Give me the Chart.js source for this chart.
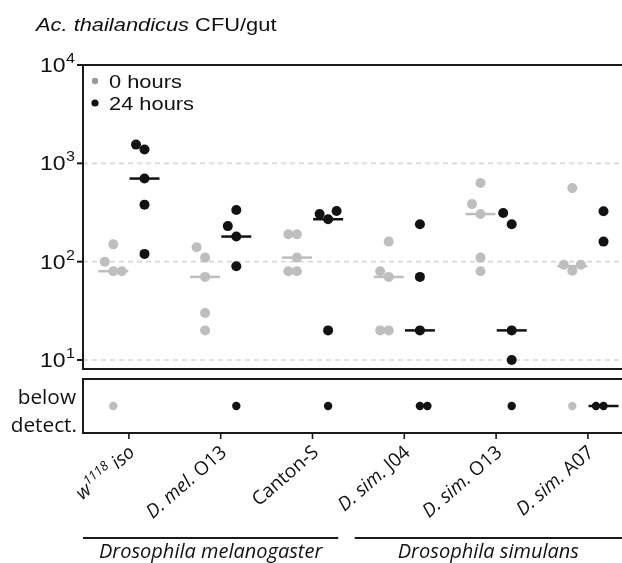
<!DOCTYPE html>
<html>
<head>
<meta charset="utf-8">
<script src="https://cdn.jsdelivr.net/npm/chart.js@4.4.0/dist/chart.umd.min.js"></script>
<style>
  html, body { margin: 0; padding: 0; background: #fff; }
  #wrap { position: relative; width: 622px; height: 563px; overflow: hidden; }
  #mainChart { position: absolute; left: 0; top: 0; }
  #belowChart { position: absolute; left: 0; top: 349px; }
</style>
</head>
<body>
<div id="wrap">
  <canvas id="mainChart" width="622" height="400"></canvas>
  <canvas id="belowChart" width="622" height="214"></canvas>
</div>
<script>
// strains on the x axis (styled runs: i = italic, sup = superscript)
const categoryLabels = [
    [['w', 'i'], ['1118', 'i sup'], [' iso', 'i']],
    [['D. mel. ', 'i'], ['O13', '']],
    [['Canton-S', '']],
    [['D. sim. ', 'i'], ['J04', '']],
    [['D. sim. ', 'i'], ['O13', '']],
    [['D. sim. ', 'i'], ['A07', '']]
];
const seriesNames = ['0 hours', '24 hours'];
const yTickValues = [10, 100, 1000, 10000];
const yTickExponents = ['1', '2', '3', '4'];

// CFU/gut of detected samples, per strain
const hours0 = [
    [150, 80, 100, 80],
    [110, 140, 70, 30, 20],
    [190, 190, 110, 80, 80],
    [160, 70, 80, 20, 20],
    [630, 305, 385, 80, 110],
    [560, 81, 93, 93]
];
const hours24 = [
    [1380, 1550, 700, 380, 120],
    [335, 180, 230, 90],
    [270, 305, 327, 20],
    [240, 70, 20],
    [240, 313, 20, 10],
    [325, 160]
];
// samples below detection limit, per strain
const below0 = [1, 0, 0, 0, 0, 1];
const below24 = [0, 1, 1, 2, 1, 3];
// medians
const median0 = [80, 70, 110, 70, 305, 90];
const median24 = [700, 180, 270, 20, 20, null];
const median24Below = [false, false, false, false, false, true];

const groupNames = ['Drosophila melanogaster', 'Drosophila simulans'];

const GRAY = '#bebebe';
const BLACK = '#121212';
const SIDE = 0.17;      // 0 h / 24 h columns either side of the strain
const CAT_PX = 91.8;    // pixel width of one strain slot

function swarmPoints(list, side) {
    const pts = [];
    list.forEach((vals, i) => vals.forEach(v => pts.push({ x: i + side, y: v, base: i + side, cat: i })));
    return pts;
}
function belowPoints(counts, side) {
    const pts = [];
    counts.forEach((n, i) => { for (let k = 0; k < n; k++) pts.push({ x: i + side, y: 0.5, base: i + side, cat: i }); });
    return pts;
}

function stretchedText(ctx, text, x, y, font, align, sx) {
    ctx.save();
    ctx.font = font;
    ctx.translate(x, y);
    ctx.scale(sx, 1);
    ctx.textAlign = align;
    ctx.fillText(text, 0, 0);
    ctx.restore();
}

function drawFrame(chart) {
    const { ctx, chartArea: a } = chart;
    ctx.save();
    ctx.strokeStyle = '#1a1a1a';
    ctx.lineWidth = 2;
    ctx.beginPath();
    ctx.moveTo(chart.width + 2, a.top);
    ctx.lineTo(a.left, a.top);
    ctx.lineTo(a.left, a.bottom);
    ctx.lineTo(chart.width + 2, a.bottom);
    ctx.stroke();
    ctx.restore();
}

const mainDecor = {
    id: 'mainDecor',
    beforeDatasetsDraw(chart) {
        const { ctx, chartArea: a, scales: { y } } = chart;
        ctx.save();
        ctx.strokeStyle = '#d8d8d8';
        ctx.lineWidth = 1.6;
        ctx.setLineDash([5, 4]);
        yTickValues.forEach(v => {
            if (v >= y.max) return;
            const py = y.getPixelForValue(v);
            ctx.beginPath();
            ctx.moveTo(a.left, py);
            ctx.lineTo(chart.width, py);
            ctx.stroke();
        });
        ctx.restore();
    },
    afterDraw(chart) {
        const { ctx, chartArea: a, scales: { y } } = chart;
        drawFrame(chart);
        ctx.save();
        ctx.strokeStyle = '#1a1a1a';
        ctx.lineWidth = 2;
        ctx.fillStyle = '#111';
        ctx.textBaseline = 'alphabetic';
        yTickValues.forEach((v, i) => {
            const py = y.getPixelForValue(v);
            ctx.beginPath();
            ctx.moveTo(a.left - 6, py);
            ctx.lineTo(a.left, py);
            ctx.stroke();
            ctx.font = '14px "Liberation Sans", Arial';
            const supW = ctx.measureText(yTickExponents[i]).width * 1.15;
            stretchedText(ctx, yTickExponents[i], 75, py - 2, '14px "Liberation Sans", Arial', 'right', 1.15);
            stretchedText(ctx, '10', 75 - supW - 0.5, py + 7, '20px "Liberation Sans", Arial', 'right', 1.15);
        });

        // title
        const tFont = 'italic 19px "Liberation Sans", Arial';
        ctx.font = tFont;
        const tw = ctx.measureText('Ac. thailandicus').width * 1.15;
        stretchedText(ctx, 'Ac. thailandicus', 36, 31, tFont, 'left', 1.15);
        stretchedText(ctx, ' CFU/gut', 36 + tw, 31, '19px "Liberation Sans", Arial', 'left', 1.15);

        // legend
        const legendColors = ['#9a9a9a', BLACK];
        const legendR = [3.2, 3.6];
        const legendY = [81, 103];
        seriesNames.forEach((name, i) => {
            ctx.fillStyle = legendColors[i];
            ctx.beginPath();
            ctx.arc(95, legendY[i], legendR[i], 0, Math.PI * 2);
            ctx.fill();
            ctx.fillStyle = '#111';
            stretchedText(ctx, name, 109, legendY[i] + 6.5, '19px "Liberation Sans", Arial', 'left', 1.15);
        });
        ctx.restore();
    }
};

// rotated strain name, right end of the baseline at (x, y)
function drawRuns(ctx, runs, x, y, angle, size) {
    const fontFor = st => (st.includes('i') ? 'italic ' : '') + (st.includes('sup') ? Math.round(size * 0.68) : size) + 'px "Open Sans"';
    ctx.save();
    ctx.translate(x, y);
    ctx.rotate(-angle);
    let total = 0;
    runs.forEach(([t, st]) => { ctx.font = fontFor(st); total += ctx.measureText(t).width; });
    let cx = -total;
    runs.forEach(([t, st]) => {
        ctx.font = fontFor(st);
        ctx.fillText(t, cx, st.includes('sup') ? -size * 0.4 : 0);
        cx += ctx.measureText(t).width;
    });
    ctx.restore();
}

const belowDecor = {
    id: 'belowDecor',
    afterDraw(chart) {
        const { ctx, chartArea: a, scales: { x } } = chart;
        drawFrame(chart);
        ctx.save();
        ctx.strokeStyle = '#1a1a1a';
        ctx.fillStyle = '#111';
        stretchedText(ctx, 'below', 76, a.top + 25, '20px "Open Sans"', 'right', 1.04);
        stretchedText(ctx, 'detect.', 77, a.bottom - 1, '20px "Open Sans"', 'right', 1.04);

        ctx.lineWidth = 1.6;
        categoryLabels.forEach((runs, i) => {
            const px = x.getPixelForValue(i);
            ctx.beginPath();
            ctx.moveTo(px, a.bottom);
            ctx.lineTo(px, a.bottom + 6);
            ctx.stroke();
            drawRuns(ctx, runs, px + 7, a.bottom + 21, 41 * Math.PI / 180, 19);
        });

        // species groups
        const lineY = a.bottom + 105;
        const spans = [[x.getPixelForValue(-0.5), x.getPixelForValue(2.28)],
                       [x.getPixelForValue(2.46), chart.width]];
        ctx.lineWidth = 2;
        groupNames.forEach((name, g) => {
            const [x0, x1] = spans[g];
            ctx.beginPath();
            ctx.moveTo(x0, lineY);
            ctx.lineTo(x1, lineY);
            ctx.stroke();
            stretchedText(ctx, name, (x0 + x1) / 2, lineY + 20, 'italic 20px "Open Sans"', 'center', 1.0);
        });
        ctx.restore();
    }
};

function yAxisBase(extra) {
    return Object.assign({
        ticks: { display: false },
        grid: { display: false },
        border: { display: false },
        afterFit: s => { s.width = 83; }
    }, extra);
}
function baseOptions(padding, yScale) {
    return {
        responsive: false,
        animation: false,
        events: [],
        layout: { padding },
        plugins: { legend: { display: false }, tooltip: { enabled: false } },
        scales: { x: { type: 'linear', min: -0.5, max: 5.37, display: false }, y: yScale }
    };
}

const mainChart = new Chart(document.getElementById('mainChart'), {
    type: 'scatter',
    data: {
        datasets: [
            { label: '0 hours median', data: median0.map((v, i) => ({ x: i - SIDE, y: v })), clip: false,
              pointStyle: 'line', pointRadius: 15, pointBorderWidth: 2.5, pointBorderColor: GRAY, borderColor: GRAY },
            { label: '24 hours median', data: median24.map((v, i) => v == null ? null : ({ x: i + SIDE, y: v })).filter(Boolean), clip: false,
              pointStyle: 'line', pointRadius: 15, pointBorderWidth: 2.5, pointBorderColor: BLACK, borderColor: BLACK },
            { label: seriesNames[0], data: swarmPoints(hours0, -SIDE), swarm: true, clip: false,
              pointRadius: 5, pointBorderWidth: 0, pointBackgroundColor: GRAY },
            { label: seriesNames[1], data: swarmPoints(hours24, SIDE), swarm: true, clip: false,
              pointRadius: 5, pointBorderWidth: 0, pointBackgroundColor: BLACK }
        ]
    },
    options: baseOptions({ top: 65, bottom: 31, left: 0, right: 0 },
                         yAxisBase({ type: 'logarithmic', min: 8.1, max: 10000 })),
    plugins: [mainDecor]
});

const belowChart = new Chart(document.getElementById('belowChart'), {
    type: 'scatter',
    data: {
        datasets: [
            { label: '24 hours median', data: median24Below.map((b, i) => b ? ({ x: i + SIDE, y: 0.5 }) : null).filter(Boolean), clip: false,
              pointStyle: 'line', pointRadius: 15, pointBorderWidth: 2.5, pointBorderColor: BLACK, borderColor: BLACK },
            { label: seriesNames[0], data: belowPoints(below0, -SIDE), swarm: true, clip: false,
              pointRadius: 4.2, pointBorderWidth: 0, pointBackgroundColor: GRAY },
            { label: seriesNames[1], data: belowPoints(below24, SIDE), swarm: true, clip: false,
              pointRadius: 4.2, pointBorderWidth: 0, pointBackgroundColor: BLACK }
        ]
    },
    options: baseOptions({ top: 30, bottom: 130, left: 0, right: 0 },
                         yAxisBase({ type: 'linear', min: 0, max: 1 })),
    plugins: [belowDecor]
});

// keep one strain slot CAT_PX wide whatever the plot area turned out to be
function fixSlotWidth(chart) {
    const a = chart.chartArea;
    chart.options.scales.x.max = -0.5 + (a.right - a.left) / CAT_PX;
    chart.update('none');
}

// spread overlapping dots sideways (simple beeswarm, in pixels from the scales)
function applySwarm(chart, step, reach, firstSide) {
    const xs = chart.scales.x, ys = chart.scales.y;
    const pxPerUnit = xs.getPixelForValue(1) - xs.getPixelForValue(0);
    chart.data.datasets.forEach(ds => {
        if (!ds.swarm) return;
        const byCat = {};
        ds.data.forEach(p => (byCat[p.cat] = byCat[p.cat] || []).push(p));
        Object.values(byCat).forEach(group => {
            const placed = [];
            group.forEach(p => {
                const py = ys.getPixelForValue(p.y);
                let off = 0;
                for (let k = 0; k < 20; k++) {
                    off = k === 0 ? 0 : (k % 2 ? firstSide : -firstSide) * Math.ceil(k / 2) * step;
                    if (!placed.some(q => Math.abs(q.off - off) < step - 0.01 && Math.abs(q.py - py) < reach)) break;
                }
                placed.push({ off, py });
                p.x = p.base + off / pxPerUnit;
            });
        });
    });
    chart.update('none');
}

fixSlotWidth(mainChart);
fixSlotWidth(belowChart);
applySwarm(mainChart, 8.5, 11.5, -1);
applySwarm(belowChart, 7.5, 5, 1);
</script>
</body>
</html>
